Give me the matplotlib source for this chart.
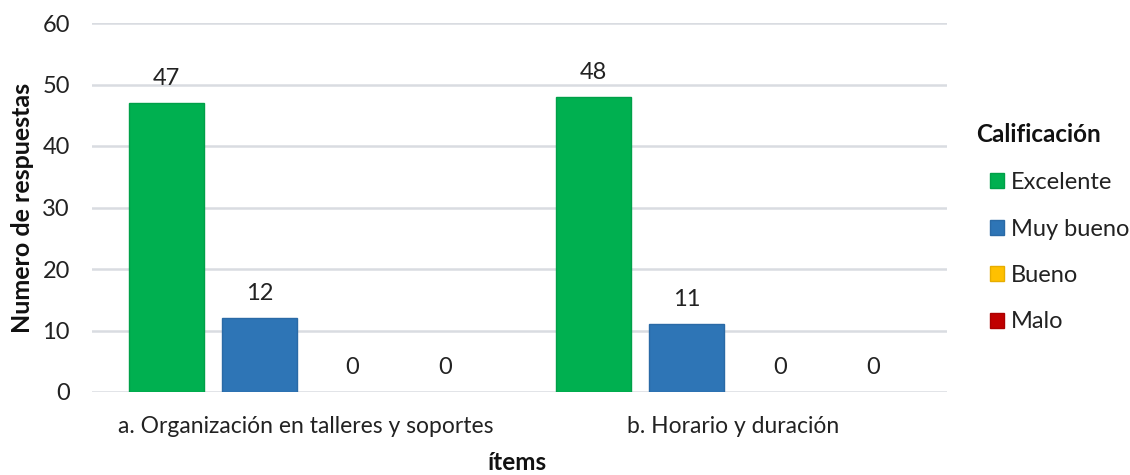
import matplotlib
matplotlib.use("Agg")
import matplotlib.pyplot as plt
import numpy as np
from matplotlib.patches import Patch

categories = ["a. Organización en talleres y soportes", "b. Horario y duración"]
series_names = ["Excelente", "Muy bueno", "Bueno", "Malo"]
excelente = [47, 48]
muy_bueno = [12, 11]
bueno = [0, 0]
malo = [0, 0]
values = [excelente, muy_bueno, bueno, malo]
colors = ["#00B050", "#2E75B6", "#FFC000", "#C00000"]
edge_colors = ["#00A048", "#2A6AA6", "#E6AD00", "#AA0000"]

plt.rcParams['font.family'] = ['Lato', 'DejaVu Sans']

W, H = 1130, 475
fig = plt.figure(figsize=(W / 100, H / 100), dpi=100)
ax = fig.add_axes([92 / W, (H - 392) / H, (947 - 92) / W, (392 - 23) / H])

x = np.arange(len(categories))
width = 0.175
step = 0.2175
for i, (name, vals) in enumerate(zip(series_names, values)):
    pos = x + (i - 1.5) * step
    ax.bar(pos, vals, width, color=colors[i], edgecolor=edge_colors[i],
           linewidth=[1 if v > 0 else 0 for v in vals], label=name, zorder=3)
    for p, v in zip(pos, vals):
        ax.annotate(str(v), (p, v), xytext=(0, 13), textcoords='offset points',
                    ha='center', va='baseline', fontsize=17, color='#222222')

ax.set_ylim(0, 60)
ax.set_yticks(np.arange(0, 61, 10))
ax.set_xlim(-0.5, 1.5)
ax.set_xticks(x)
ax.set_xticklabels(categories)
ax.tick_params(axis='both', length=0, colors='#222222')
ax.tick_params(axis='x', pad=17, labelsize=16.5)
ax.tick_params(axis='y', pad=16, labelsize=17)
ax.grid(axis='y', color='#D9DCE1', linewidth=1.8, zorder=0)
for s in ax.spines.values():
    s.set_visible(False)

ax.set_ylabel("Numero de respuestas", fontsize=18, fontweight='bold', color='#111111')
ax.yaxis.set_label_coords(-(92 - 34) / 855, 0.5)
fig.text(517 / W, 1 - 462 / H, "ítems", ha='center', va='center', fontsize=17.5,
         fontweight='bold', color='#111111')

fig.text(976 / W, 1 - 135 / H, "Calificación", ha='left', va='center', fontsize=17.5,
         fontweight='bold', color='#111111')
handles = [Patch(facecolor=c, edgecolor=e, label=n) for c, e, n in zip(colors, edge_colors, series_names)]
leg = fig.legend(handles=handles, loc='upper left',
                 bbox_to_anchor=(990 / W, 1 - 172 / H), frameon=False,
                 fontsize=17, handlelength=0.6, handleheight=0.6, handletextpad=0.3,
                 labelspacing=1.08, borderaxespad=0, borderpad=0)
for t in leg.get_texts():
    t.set_color('#222222')

fig.savefig("out.png", dpi=100)
